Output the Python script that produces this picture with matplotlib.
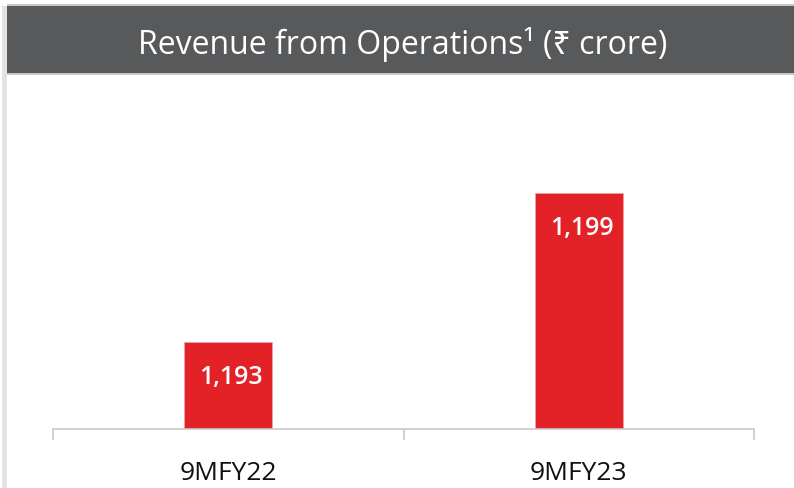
import matplotlib.pyplot as plt
from matplotlib.patches import Rectangle

# data
categories = ['9MFY22', '9MFY23']
revenue = [1193, 1199]
value_labels = ['1,193', '1,199']
title = 'Revenue from Operations\u00b9 (\u20b9 crore)'

W, H = 794, 489
fig = plt.figure(figsize=(W / 100, H / 100), dpi=100)
fonts = ['Open Sans', 'Noto Sans', 'DejaVu Sans']

# title bar + left shadow line
fig.patches.append(Rectangle((2 / W, 0), 5 / W, 1 - 7 / H, transform=fig.transFigure,
                             facecolor='#e3e3e3', edgecolor='none'))
fig.patches.append(Rectangle((7 / W, 1 - 76 / H), 1, 71 / H, transform=fig.transFigure,
                             facecolor='#c8c8c8', edgecolor='none'))
fig.patches.append(Rectangle((7 / W, 1 - 74 / H), 1, 67 / H, transform=fig.transFigure,
                             facecolor='#58595b', edgecolor='none'))
fig.text(403 / W, 1 - 44 / H, title, color='white', fontsize=23, family=fonts,
         ha='center', va='center')

# plot area
ax = fig.add_axes([53 / W, 59 / H, 701 / W, 351 / H])
x = list(range(len(categories)))
ax.bar(x, revenue, width=0.25, color='#e32227', edgecolor='#f0a0a0', linewidth=0.6, zorder=2)
ymin = 1189.5
ax.set_ylim(ymin, ymin + 351 / 24.84)
ax.set_xlim(-0.5, len(categories) - 0.5)

for xi, v, lab in zip(x, revenue, value_labels):
    ax.annotate(lab, (xi, v), xytext=(3, -34), textcoords='offset pixels',
                ha='center', va='center', color='white', fontsize=18,
                fontweight='semibold', family=fonts)

for s in ['top', 'right', 'left']:
    ax.spines[s].set_visible(False)
ax.spines['bottom'].set_color('#c9c9c9')
ax.spines['bottom'].set_linewidth(1.2)
ax.set_yticks([])
ax.set_xticks(x)
ax.set_xticklabels(categories, fontsize=19, family=fonts, color='#111111')
ax.tick_params(axis='x', which='major', length=0, pad=22)
ax.set_xticks([-0.5, 0.5, 1.5], minor=True)
ax.tick_params(axis='x', which='minor', length=8, width=1.2, color='#c9c9c9')

fig.savefig('out.png', dpi=100)
